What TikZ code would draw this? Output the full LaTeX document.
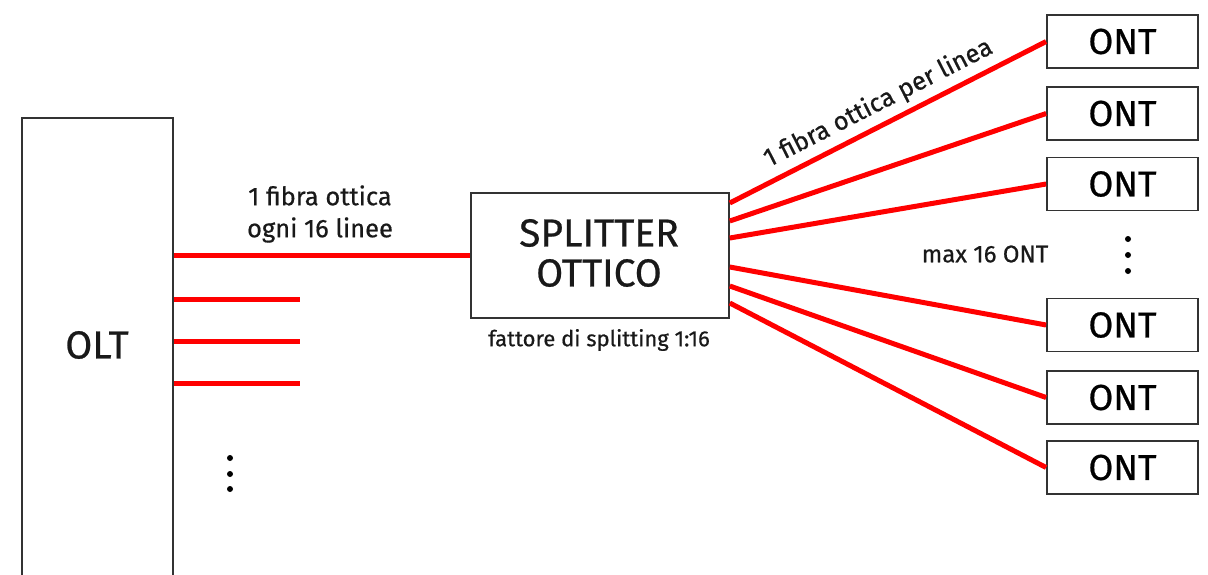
\documentclass[tikz,border=0pt]{standalone}
\usepackage{fontspec}
\setmainfont{Fira Sans}[FakeBold=0.6]
\begin{document}
\begin{tikzpicture}[x=1pt,y=-1pt,
  box/.style={draw=black!80, line width=1.8pt, fill=white, inner sep=0pt},
  fiber/.style={draw=red, line width=5pt},
  txt/.style={text=black!90, inner sep=0pt},
  dotc/.style={fill=black, circle, inner sep=0pt, minimum size=6pt}]
\useasboundingbox (0,0) rectangle (1208,574);
\clip (0,0) rectangle (1208,574);
% OLT
\node (olt) [box, anchor=north west, minimum width=151pt, minimum height=480pt] at (21,117) {};
\node (oltlbl) [txt, font=\fontsize{39}{42}\selectfont] at (97,345) {OLT};
% splitter
\node (split) [box, anchor=north west, minimum width=258pt, minimum height=125pt] at (470,192) {};
\node (splitlbl) [txt, align=center, font=\fontsize{39}{40}\selectfont] at (599,253) {SPLITTER\\OTTICO};
\node (factor) [txt, font=\fontsize{22}{24}\selectfont] at (599,340) {fattore di splitting 1:16};
% ONTs
\foreach \i/\y in {1/41.5, 2/113.5, 3/184, 4/325, 5/397.5, 6/467.5}{
  \node (ont\i) [box, minimum width=151pt, minimum height=53pt, font=\fontsize{36}{40}\selectfont] at (1122.5,\y) {ONT};
}
% OLT lines
\coordinate (c1) at (300,299);
\coordinate (c2) at (300,341);
\coordinate (c3) at (300,383);
\draw[fiber] (olt.east |- split.west) -- (split.west);
\draw[fiber] (olt.east |- c1) -- (c1);
\draw[fiber] (olt.east |- c2) -- (c2);
\draw[fiber] (olt.east |- c3) -- (c3);
\node (lbl1) [txt, align=center, font=\fontsize{25.5}{32}\selectfont] at (320,214) {1 fibra ottica\\ogni 16 linee};
% dots
\node (d1) [dotc] at (230,458) {};
\node (d2) [dotc] at (230,474) {};
\node (d3) [dotc] at (230,489) {};
\node (e1) [dotc] at (1128,239) {};
\node (e2) [dotc] at (1128,255) {};
\node (e3) [dotc] at (1128,271) {};
% splitter lines
\draw[fiber] (split.east |- 0,203) -- (ont1.west)
  node[midway, sloped, above=6pt, txt, font=\fontsize{25.5}{28}\selectfont] {1 fibra ottica per linea};
\draw[fiber] (split.east |- 0,221) -- (ont2.west);
\draw[fiber] (split.east |- 0,238) -- (ont3.west);
\draw[fiber] (split.east |- 0,267) -- (ont4.west);
\draw[fiber] (split.east |- 0,286) -- (ont5.west);
\draw[fiber] (split.east |- 0,303) -- (ont6.west);
\node (maxlbl) [txt, font=\fontsize{24}{26}\selectfont] at (985,254) {max 16 ONT};
\end{tikzpicture}
\end{document}
